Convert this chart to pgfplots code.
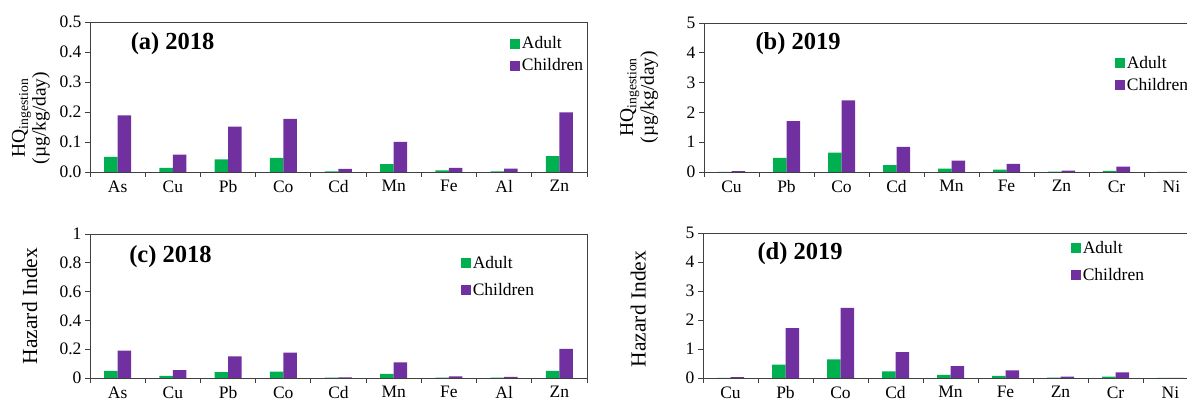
\documentclass[border=0pt]{standalone}
\usepackage{fontspec}
\setmainfont{Liberation Serif}
\usepackage{pgfplots}
\pgfplotsset{compat=1.18}
\definecolor{adultg}{RGB}{0,176,80}
\definecolor{childp}{RGB}{112,48,160}
\newfontfamily\legfont{Liberation Serif}
\pgfplotsset{
 panel/.style={
  scale only axis, ybar=0pt, bar width=13.5pt,
  xmin=-0.5, xmax=8.5, ymin=0,
  xtick={-0.5,0.5,1.5,2.5,3.5,4.5,5.5,6.5,7.5,8.5}, xticklabels={},
  extra x ticks={0,1,2,3,4,5,6,7,8},
  extra x tick style={major tick length=0pt, xticklabel style={yshift=-5pt}},
  xtick pos=bottom, ytick pos=left, tick align=outside,
  major tick length=5pt,
  axis line style={black!75, line width=0.8pt},
  every tick/.style={black!75, line width=0.8pt},
  tick label style={font=\rmfamily\fontsize{17.5}{20}\selectfont},
  /pgf/number format/assume math mode=true,
  legend image code/.code={\fill[##1] (0pt,-5pt) rectangle (10pt,5pt);},
  legend style={draw=none, fill=none, inner sep=0pt, outer sep=0pt,
    font=\legfont\fontsize{17.5}{20}\selectfont, anchor=north west,
    nodes={inner sep=1.5pt}},
  legend cell align=left,
  ylabel style={anchor=center, align=center},
 },
 adult/.style={fill=adultg, draw=none},
 child/.style={fill=childp, draw=none},
}
\begin{document}
\begin{tikzpicture}[x=1pt,y=1pt]
\useasboundingbox (0,0) rectangle (1187,407);
% ---------------- (a) ----------------
\begin{axis}[panel, at={(90pt,235pt)}, anchor=south west,
  width=497pt, height=150pt, ymax=0.5,
  ytick={0,0.1,0.2,0.3,0.4,0.5},
  yticklabel style={/pgf/number format/.cd, fixed, fixed zerofill, precision=1},
  extra x tick labels={As,Cu,Pb,Co,Cd,Mn,Fe,Al,Zn},
  ylabel={\fontsize{19.5}{22}\selectfont HQ\textsubscript{ingestion}\\\fontsize{19.5}{22}\selectfont (µg/kg/day)},
  ylabel style={at={(axis description cs:-0.119,0.36)}},
  legend style={at={(axis description cs:0.846,0.912)}, row sep=5.5pt}]
\addplot[adult] coordinates {(0,0.050) (1,0.014) (2,0.042) (3,0.047) (4,0.002) (5,0.026) (6,0.005) (7,0.002) (8,0.053)};
\addplot[child] coordinates {(0,0.189) (1,0.058) (2,0.151) (3,0.177) (4,0.010) (5,0.100) (6,0.014) (7,0.011) (8,0.199)};
\legend{{\legfont Adult},{\legfont Children}}
\node[anchor=west, font=\bfseries\fontsize{24.5}{28}\selectfont] at (rel axis cs:0.075,0.855) {(a) 2018};
\end{axis}
% ---------------- (b) ----------------
\begin{axis}[panel, at={(704pt,235pt)}, anchor=south west,
  width=495pt, height=149pt, ymax=5,
  ytick={0,1,2,3,4,5},
  extra x tick labels={Cu,Pb,Co,Cd,Mn,Fe,Zn,Cr,Ni},
  ylabel={\fontsize{19.5}{22}\selectfont HQ\textsubscript{ingestion}\\\fontsize{19.5}{22}\selectfont (µg/kg/day)},
  ylabel style={at={(axis description cs:-0.131,0.503)}},
  legend style={at={(axis description cs:0.831,0.787)}, row sep=5.5pt}]
\addplot[adult] coordinates {(0,0.005) (1,0.47) (2,0.65) (3,0.23) (4,0.11) (5,0.08) (6,0.01) (7,0.035) (8,0.0)};
\addplot[child] coordinates {(0,0.03) (1,1.71) (2,2.40) (3,0.84) (4,0.38) (5,0.27) (6,0.045) (7,0.18) (8,0.0)};
\legend{{\legfont Adult},{\legfont Children}}
\node[anchor=west, font=\bfseries\fontsize{24.5}{28}\selectfont] at (rel axis cs:0.097,0.862) {(b) 2019};
\end{axis}
% ---------------- (c) ----------------
\begin{axis}[panel, at={(90pt,29pt)}, anchor=south west,
  width=497pt, height=144pt, ymax=1,
  ytick={0,0.2,0.4,0.6,0.8,1},
  extra x tick labels={As,Cu,Pb,Co,Cd,Mn,Fe,Al,Zn},
  ylabel={\fontsize{21.5}{24}\selectfont Hazard Index},
  ylabel style={at={(axis description cs:-0.121,0.5)}},
  legend style={at={(axis description cs:0.747,0.858)}, row sep=10.5pt}]
\addplot[adult] coordinates {(0,0.050) (1,0.014) (2,0.040) (3,0.044) (4,0.002) (5,0.028) (6,0.003) (7,0.002) (8,0.050)};
\addplot[child] coordinates {(0,0.190) (1,0.055) (2,0.150) (3,0.177) (4,0.005) (5,0.108) (6,0.012) (7,0.007) (8,0.202)};
\legend{{\legfont Adult},{\legfont Children}}
\node[anchor=west, font=\bfseries\fontsize{24.5}{28}\selectfont] at (rel axis cs:0.072,0.845) {(c) 2018};
\end{axis}
% ---------------- (d) ----------------
\begin{axis}[panel, at={(703pt,29pt)}, anchor=south west,
  width=495pt, height=145pt, ymax=5,
  ytick={0,1,2,3,4,5},
  extra x tick labels={Cu,Pb,Co,Cd,Mn,Fe,Zn,Cr,Ni},
  ylabel={\fontsize{21.5}{24}\selectfont Hazard Index},
  ylabel style={at={(axis description cs:-0.131,0.476)}},
  legend style={at={(axis description cs:0.744,0.952)}, row sep=10.5pt}]
\addplot[adult] coordinates {(0,0.005) (1,0.46) (2,0.64) (3,0.23) (4,0.11) (5,0.07) (6,0.01) (7,0.045) (8,0.0)};
\addplot[child] coordinates {(0,0.03) (1,1.72) (2,2.42) (3,0.89) (4,0.41) (5,0.26) (6,0.045) (7,0.19) (8,0.0)};
\legend{{\legfont Adult},{\legfont Children}}
\node[anchor=west, font=\bfseries\fontsize{24.5}{28}\selectfont] at (rel axis cs:0.103,0.86) {(d) 2019};
\end{axis}
\end{tikzpicture}
\end{document}
